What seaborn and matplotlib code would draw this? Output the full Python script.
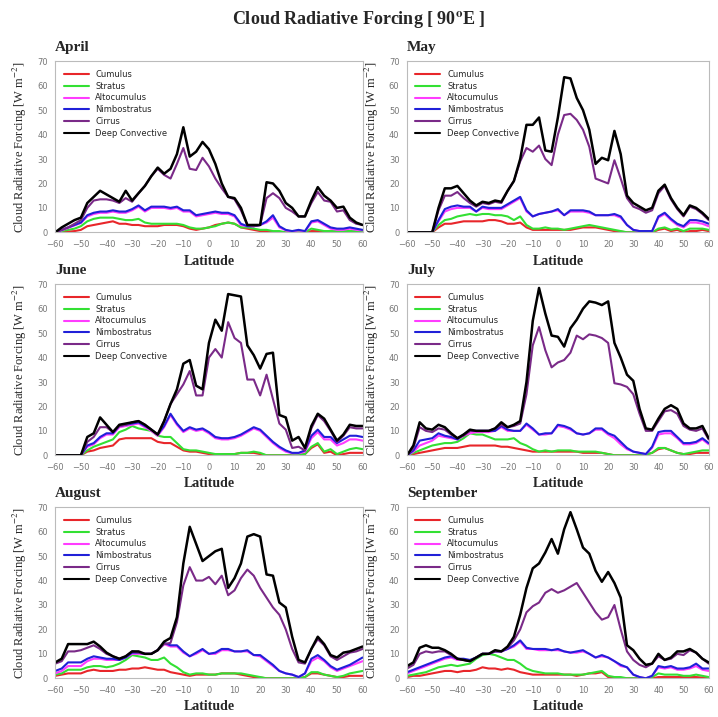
import numpy as np
import pandas as pd
import matplotlib
matplotlib.use("Agg")
import matplotlib.pyplot as plt
import seaborn as sns

# Latitude grid (2.5 degree steps) and series names
latitude = np.linspace(-60, 60, 49)
cloud_types = ["Cumulus", "Stratus", "Altocumulus", "Nimbostratus", "Cirrus", "Deep Convective"]
colors = ["#e8262a", "#33e033", "#ff3cff", "#2020d8", "#7a2a88", "#000000"]
months = ["April", "May", "June", "July", "August", "September"]

# April
apr_cu = [0, 0, 0.3, 0.5, 1, 2.5, 3, 3.5, 4, 4.5, 3.5, 3.5, 3, 3, 2.5, 2.5, 2.5, 3, 3, 3, 2.5, 1.5, 1, 1.5, 2,
          3, 3.5, 4, 3.5, 2, 1.5, 1, 0.5, 0.5, 0, 0, 0, 0, 0, 0, 0.5, 0.5, 0.3, 0.2, 0.2, 0.2, 0.2, 0.2, 0.2]
apr_st = [0, 0.5, 1, 1.5, 2.5, 4.5, 5.5, 6, 6, 6, 5.5, 5, 5, 5.5, 4, 3.5, 3.5, 3.5, 3.5, 3.5, 3, 2, 1.5, 1.5, 2,
          2.5, 3.5, 4, 3.5, 2, 2, 1.5, 1, 1, 0.5, 0.5, 0, 0, 0.5, 0, 1.5, 1, 0.5, 0.5, 0.5, 0.5, 0.5, 0.5, 0.5]
apr_ac = [0, 0.8, 1.8, 2.8, 3.8, 6.5, 7.5, 8, 8, 8.5, 8, 8, 9, 10.5, 8.5, 10, 10, 10, 9.5, 10, 8.5, 8.5, 6.5, 7, 7.5,
          8, 7.5, 7.5, 6.5, 3, 2.5, 2.5, 3, 4, 6, 2, 0.8, 0.3, 0.8, 0.3, 4, 4.5, 3, 1.5, 1, 1, 1.5, 1, 0.8]
apr_ns = [0, 1, 2, 3, 4, 7, 8, 8.5, 8.5, 9, 8.5, 8.5, 9.5, 11, 9, 10.5, 10.5, 10.5, 10, 10.5, 9, 9, 7, 7.5, 8,
          8.5, 8, 8, 7, 3.5, 2.5, 2.5, 3, 4.5, 7, 2.5, 1, 0.5, 1, 0.5, 4.5, 5, 3.5, 2, 1.5, 1.5, 2, 1.5, 1]
apr_ci = [0, 1, 2, 3.5, 5, 10, 13, 13.5, 13.5, 13, 12, 14, 12.5, 16, 19, 23, 26, 23.5, 22, 28, 34.5, 26, 25.5, 30.5, 27,
          22, 18, 14.5, 13.5, 9, 3, 2.5, 3, 14, 16, 14, 10, 8.5, 6.5, 6.5, 12, 16.5, 13, 12.5, 8.5, 9, 5, 3.5, 3]
apr_dc = [0, 2, 3.5, 5, 6, 12, 14.5, 17, 15.5, 14, 12.5, 17, 13, 16, 19, 23, 26.5, 24, 26, 32, 43, 31, 33, 37, 34,
          28, 20, 14.5, 14, 10, 3, 3, 3, 20.5, 20, 17, 12, 10, 6.5, 6.5, 13, 18.5, 15, 13, 10, 10.5, 6, 4, 3]

# May
may_cu = [0, 0, 0, 0, 0, 2, 3.5, 3.5, 4, 4.5, 4.5, 4.5, 4.5, 5, 5, 4.5, 3.5, 3.5, 4, 2, 1, 1, 1, 1, 1,
          1, 1, 1.5, 2, 2, 2, 1.5, 1, 0.5, 0.3, 0, 0, 0, 0, 0, 1, 1.5, 0.5, 1, 0, 0.5, 0.5, 1, 0.5]
may_st = [0, 0, 0, 0, 0, 3, 5, 5.5, 6.5, 7, 7.5, 7, 7.5, 7.5, 7, 7, 6.5, 5, 6.5, 3, 1.5, 1.5, 2, 1.5, 1.5,
          1, 1.5, 2, 2.5, 3, 2.5, 2, 1.5, 1, 0.5, 0, 0, 0, 0, 0, 1.5, 2, 1, 1.5, 0.5, 1.5, 1.5, 1.5, 1]
may_ac = [0, 0, 0, 0, 0, 4.5, 8.5, 9.5, 10, 10, 10, 8.5, 10, 9.5, 9.5, 9.5, 11, 12.5, 14, 8.5, 6.5, 7.5, 8, 8.5, 9,
          7, 8.5, 8.5, 8.5, 8, 7, 7, 7, 7, 6, 3, 1, 0.5, 0.5, 0.5, 6, 7.5, 5, 3, 2, 4, 4, 3.5, 2.5]
may_ns = [0, 0, 0, 0, 0, 5, 9.5, 10.5, 11, 10.5, 10.5, 8.5, 10.5, 10, 10, 10, 11.5, 13, 14.5, 9, 6.5, 7.5, 8, 8.5, 9.5,
          7, 9, 9, 9, 8.5, 7, 7, 7, 7.5, 6.5, 3, 1, 0.5, 0.5, 0.5, 6.5, 8, 5.5, 3.5, 2.5, 5, 5, 4.5, 3.5]
may_ci = [0, 0, 0, 0, 0, 9, 15, 15, 16.5, 14, 12, 10.5, 12, 11.5, 12.5, 12, 17, 21, 29, 34.5, 33, 35.5, 30, 27.5, 40,
          48, 48.5, 46, 42, 35, 22, 21, 20, 29.5, 22, 14, 10.5, 9.5, 8, 9, 16, 19, 13.5, 9.5, 6.5, 10.5, 9.5, 7.5, 5]
may_dc = [0, 0, 0, 0, 0, 10, 18, 18, 19, 16, 13, 11, 12.5, 12, 13, 12.5, 17, 21, 30, 44, 44, 47, 33.5, 33, 47,
          63.5, 63, 55, 50, 42, 28, 30.5, 29.5, 41.5, 32, 15, 12, 10.5, 9, 10, 17, 19.5, 14, 10, 7, 11, 10, 8, 5.5]

# June
jun_cu = [0, 0, 0, 0, 0, 1.5, 2, 3, 3.5, 4, 6.5, 7, 7, 7, 7, 7, 5.5, 5, 5, 3.5, 2, 1.5, 1.5, 1, 0.5,
          0.3, 0.3, 0.5, 0.5, 1, 1, 1, 0.5, 0, 0, 0, 0, 0, 0.3, 0.5, 3, 4.5, 1, 1.5, 0, 0.5, 1, 1, 1]
jun_st = [0, 0, 0, 0, 0, 2, 3.5, 4.5, 5.5, 6.5, 9.5, 10.5, 12, 11, 10.5, 10, 8, 7.5, 7.5, 5, 2.5, 2, 2, 1.5, 1,
          0.5, 0.5, 0.5, 0.5, 1, 1, 1.5, 1, 0, 0, 0, 0, 0, 0.3, 0.5, 3.5, 5, 1.5, 2.5, 0.5, 1.5, 2.5, 3, 2.5]
jun_ac = [0, 0, 0, 0, 0, 3.5, 4.5, 7, 8.5, 8.5, 11.5, 12, 12.5, 13, 11.5, 10, 8, 11.5, 16.5, 12.5, 9.5, 11, 10, 10.5, 9,
          7, 6.5, 6.5, 7, 8, 9.5, 11, 10, 7.5, 5, 3, 1.5, 0.8, 0.8, 1.5, 7, 9.5, 6.5, 6.5, 4, 5, 6.5, 6.5, 6]
jun_ns = [0, 0, 0, 0, 0, 4, 5, 7.5, 9, 9, 12, 12.5, 13, 13.5, 12, 10.5, 8.5, 12, 17, 13, 10, 11.5, 10.5, 11, 9.5,
          7.5, 7, 7, 7.5, 8.5, 10, 11.5, 10.5, 8, 5.5, 3.5, 2, 1, 1, 2, 8, 10.5, 7.5, 7.5, 5, 6.5, 8, 8, 7.5]
jun_ci = [0, 0, 0, 0, 0, 5.5, 7.5, 11.5, 11.5, 9.5, 12, 12.5, 13.5, 14, 12.5, 10.5, 8.5, 14, 21, 25, 29, 34.5, 24.5, 24.5, 40,
          43.5, 40, 54.5, 48, 46, 31, 31, 24.5, 33, 23, 13, 10.5, 3, 3.5, 2, 11, 16.5, 14, 10, 5.5, 8, 11.5, 11, 11]
jun_dc = [0, 0, 0, 0, 0, 7.5, 9, 15.5, 12.5, 9.5, 12.5, 13, 13.5, 14, 12.5, 10.5, 8.5, 14, 21, 27, 37.5, 39, 28.5, 27, 46,
          55.5, 51, 66, 65.5, 65, 45, 41, 35.5, 41.5, 42, 16.5, 15.5, 6, 7.5, 3, 12, 17, 15, 10.5, 6, 8.5, 12.5, 12, 12]

# July
jul_cu = [0, 0.5, 1, 1.5, 2, 2.5, 3, 3, 3, 3.5, 4, 4, 4, 4, 4, 3.5, 3.5, 3, 2.5, 2, 1.5, 1.5, 1.5, 1.5, 1.5,
          1.5, 1.5, 1.5, 1, 1, 1, 1, 0.5, 0, 0, 0, 0, 0, 0.3, 1, 2.5, 3, 2, 1, 0.5, 0.5, 1, 1, 1]
jul_st = [0, 1, 2, 3, 4, 4.5, 5, 5, 5.5, 7, 9, 8.5, 8.5, 7.5, 6.5, 6.5, 6.5, 7, 5, 4, 2.5, 1.5, 2, 1.5, 2,
          2, 2, 1.5, 1.5, 1.5, 1.5, 1, 0.5, 0, 0, 0, 0, 0, 0.3, 1, 3, 3, 2, 1, 0.5, 1, 1.5, 2, 2]
jul_ac = [0, 1.5, 4, 5, 6, 8, 7.5, 7, 6.5, 8, 9, 9.5, 9.5, 9.5, 10, 11.5, 10, 10, 10, 12.5, 10.5, 8.5, 8.5, 9, 12,
          11.5, 10.5, 9, 8.5, 9, 10.5, 10.5, 8.5, 7, 4.5, 2.5, 1.5, 1, 0.5, 3, 8.5, 9, 9, 7, 4.5, 4.5, 5, 6.5, 4.5]
jul_ns = [0, 2, 6, 6.5, 7, 9, 8, 7.5, 6.5, 8.5, 10, 10, 10, 10, 10, 12, 10.5, 10, 10, 13, 11, 8.5, 9, 9, 12.5,
          12, 11, 9, 8.5, 9, 11, 11, 9, 8, 5.5, 3, 1.5, 1, 0.5, 3.5, 9.5, 10, 10, 7.5, 5, 5, 5.5, 7, 5]
jul_ci = [0, 3, 11.5, 10, 9.5, 11, 10.5, 8.5, 7, 8, 10, 10, 10, 10, 11, 12.5, 11.5, 12, 13, 25, 45, 52.5, 43, 36, 38,
          39, 42, 49, 47.5, 49.5, 49, 48, 46, 29.5, 29, 28, 25, 17, 10, 10, 14, 18, 18.5, 17, 12, 10.5, 10, 11, 6.5]
jul_dc = [0, 4, 13.5, 11, 10.5, 12.5, 11.5, 9, 7, 8.5, 10.5, 10, 10, 10, 11, 13.5, 11.5, 12.5, 14, 30, 55, 68.5, 58, 49, 48.5,
          44.5, 52, 55.5, 60, 63, 62.5, 61.5, 63, 46, 40, 33, 30.5, 19, 11, 10.5, 15, 19, 20.5, 19, 13, 11, 11, 12, 7]

# August
aug_cu = [1, 1.5, 2, 2, 2, 3, 3.5, 3, 3, 3, 3.5, 3.5, 4, 4, 4.5, 4, 3.5, 3.5, 2.5, 2, 1.5, 1, 1.5, 1.5, 1.5,
          1.5, 2, 2, 2, 1.5, 1, 0.5, 0.3, 0, 0, 0, 0, 0, 0, 0.5, 2, 2, 1.5, 1, 0.5, 0.5, 1, 1, 1]
aug_st = [1.5, 2, 3.5, 3.5, 3.5, 4.5, 5, 5, 4.5, 5, 6, 7.5, 9.5, 9, 8.5, 7.5, 7.5, 8.5, 6, 4.5, 2.5, 1.5, 2, 2, 1.5,
          1.5, 2, 2, 2, 2, 1.5, 1, 0.5, 0, 0, 0, 0, 0, 0, 0.5, 2.5, 2.5, 1.5, 1, 0.5, 1, 2, 2.5, 3]
aug_ac = [2, 3, 5, 5, 5, 7, 8, 8, 7.5, 7.5, 7.5, 8.5, 10, 10, 10, 10, 11.5, 14, 13, 13, 10.5, 9, 10, 11.5, 10,
          10, 11.5, 11.5, 11, 11, 11, 9.5, 9, 7, 5, 3, 2, 1.5, 0.5, 2, 7, 8.5, 7, 4.5, 3, 4, 5, 6, 7]
aug_ns = [3, 4, 6.5, 6.5, 6.5, 8, 9, 8.5, 8, 8, 7.5, 8.5, 10.5, 10.5, 10, 10, 11.5, 14.5, 13.5, 13.5, 11, 9, 10.5, 12, 10,
          10.5, 12, 12, 11, 11, 11.5, 9.5, 9.5, 7.5, 5.5, 3, 2, 1.5, 0.5, 2, 8, 9.5, 7.5, 5, 3.5, 4.5, 5.5, 7, 8.5]
aug_ci = [6, 7, 11, 11, 11.5, 12.5, 13.5, 12, 10, 9, 8, 9, 11, 10.5, 10, 10, 11.5, 14, 14.5, 23, 38, 45.5, 40, 40, 41.5,
          38.5, 42, 34, 36, 41, 44.5, 42, 37, 33, 29, 26, 20, 12, 6.5, 6, 12, 16, 13.5, 9, 7.5, 9, 10.5, 11, 12]
aug_dc = [6.5, 8, 14, 14, 14, 14, 15, 13, 10.5, 9, 8, 9, 11, 11, 10, 10, 11.5, 15, 16.5, 25, 47, 62, 55, 48, 50,
          52, 53, 37, 41, 47, 58, 59, 58, 42.5, 42, 31, 29, 17, 7.5, 6.5, 12, 17, 14, 9.5, 8.5, 10.5, 11, 12, 13]

# September
sep_cu = [0.5, 1, 1, 1.5, 2, 2.5, 3, 3, 2.5, 3, 3, 3.5, 4.5, 4, 4, 3.5, 4, 3.5, 2.5, 2, 1.5, 1.5, 1.5, 1.5, 1.5,
          1.5, 1.5, 1, 1.5, 2, 2, 2.5, 0.5, 0.3, 0, 0, 0, 0, 0, 0, 0.5, 0.5, 0.5, 0.5, 0.5, 0.5, 0.5, 0.3, 0]
sep_st = [1, 1.5, 2, 2.5, 3.5, 4.5, 5, 5.5, 5, 5.5, 6, 8, 9.5, 10, 9.5, 8.5, 7.5, 7.5, 6, 4, 3, 2.5, 2, 2, 2,
          1.5, 1.5, 1.5, 1.5, 2, 2.5, 3, 1, 0.5, 0.5, 0, 0, 0, 0, 0.5, 2, 1.5, 1.5, 1.5, 1, 1, 1.5, 1, 0.5]
sep_ac = [2, 3, 4, 5, 6, 7, 8, 8.5, 7.5, 7.5, 7, 8.5, 10, 10, 11, 11, 12, 13, 15, 12, 12, 11.5, 11.5, 11.5, 11.5,
          11, 10.5, 10.5, 11, 10, 8.5, 9, 8.5, 7, 5, 4.5, 1.5, 0.5, 0, 1, 4.5, 4, 4.5, 3.5, 3.5, 4, 5, 3.5, 3]
sep_ns = [2.5, 3.5, 4.5, 5.5, 6.5, 7.5, 8.5, 9, 8, 8, 7.5, 8.5, 10, 10, 11, 11, 12, 13.5, 15.5, 12.5, 12, 12, 12, 11.5, 12,
          11, 10.5, 11, 11.5, 10, 8.5, 9.5, 8.5, 7, 5.5, 4.5, 1.5, 0.5, 0, 1, 5, 4.5, 5, 4, 4, 4.5, 6, 4, 4]
sep_ci = [4, 5.5, 10, 11, 10.5, 11, 11, 9.5, 8, 7.5, 7, 8.5, 10, 10, 11, 11, 12.5, 15.5, 20, 27, 29.5, 31, 35, 36.5, 35,
          36, 37.5, 39, 35, 31, 27, 24, 25, 30, 20, 11, 7.5, 5.5, 4.5, 6, 9, 7.5, 8, 10, 9.5, 11.5, 10.5, 8, 6]
sep_dc = [5, 6.5, 12.5, 13.5, 12.5, 12.5, 11.5, 10, 8, 7.5, 7, 8.5, 10, 10, 11.5, 11, 13, 17, 26, 37, 45, 47, 51.5, 57, 51,
          61, 68, 61, 53.5, 51, 44, 39.5, 43.5, 39, 33, 13.5, 11.5, 8, 5.5, 6, 10, 7.5, 8.5, 11, 11, 12, 10.5, 8, 6.5]

month_series = {
    "April": [apr_cu, apr_st, apr_ac, apr_ns, apr_ci, apr_dc],
    "May": [may_cu, may_st, may_ac, may_ns, may_ci, may_dc],
    "June": [jun_cu, jun_st, jun_ac, jun_ns, jun_ci, jun_dc],
    "July": [jul_cu, jul_st, jul_ac, jul_ns, jul_ci, jul_dc],
    "August": [aug_cu, aug_st, aug_ac, aug_ns, aug_ci, aug_dc],
    "September": [sep_cu, sep_st, sep_ac, sep_ns, sep_ci, sep_dc],
}

# Long-form table for seaborn
rows = []
for month, series in month_series.items():
    for ctype, vals in zip(cloud_types, series):
        for lat, val in zip(latitude, vals):
            rows.append((month, lat, ctype, val))
df = pd.DataFrame(rows, columns=["Month", "Latitude", "Type", "CRF"])

sns.set_style("white")
plt.rcParams['font.family'] = ['DejaVu Sans']
plt.rcParams['mathtext.fontset'] = 'stix'
serif = ['Liberation Serif', 'DejaVu Serif']

fig = plt.figure(figsize=(7.18, 7.17), dpi=100)

# axes boxes [left, bottom, width, height] in figure fraction
lefts = [0.077, 0.567]
widths = [0.428, 0.420]
bottoms = [0.676, 0.365, 0.054]
height = 0.2385

for i, month in enumerate(months):
    ax = fig.add_axes([lefts[i % 2], bottoms[i // 2], widths[i % 2], height])
    sns.lineplot(data=df[df["Month"] == month], x="Latitude", y="CRF", hue="Type",
                 hue_order=cloud_types, palette=colors, linewidth=1.5, ax=ax)
    # deep convective line a touch heavier, as in the original
    ax.lines[len(cloud_types) - 1].set_linewidth(1.8)
    ax.set_xlim(-60, 60)
    ax.set_ylim(0, 70)
    ax.set_xticks(range(-60, 61, 10))
    ax.set_yticks(range(0, 71, 10))
    ax.tick_params(labelsize=6, colors='#777777', length=2, width=0.6)
    for s in ax.spines.values():
        s.set_color('#bbbbbb')
        s.set_linewidth(0.8)
    ax.set_xlabel("Latitude", family=serif, fontweight='bold', fontsize=10, labelpad=4)
    ax.set_ylabel("Cloud Radiative Forcing [W m$^{-2}$]", family=serif, fontsize=9, labelpad=6)
    ax.text(0.0, 1.045, month, transform=ax.transAxes, family=serif,
            fontweight='bold', fontsize=11, ha='left', va='bottom')
    leg = ax.legend(loc='upper left', frameon=False, fontsize=6, handlelength=3,
                    labelspacing=0.35, borderaxespad=0.6)
    for line in leg.get_lines():
        line.set_linewidth(1.5)

fig.text(0.5, 0.973, r"Cloud Radiative Forcing [ 90$^{\mathbf{o}}$E ]", family=serif,
         fontweight='bold', fontsize=13, ha='center', va='center')

fig.savefig("out.png", dpi=100)
